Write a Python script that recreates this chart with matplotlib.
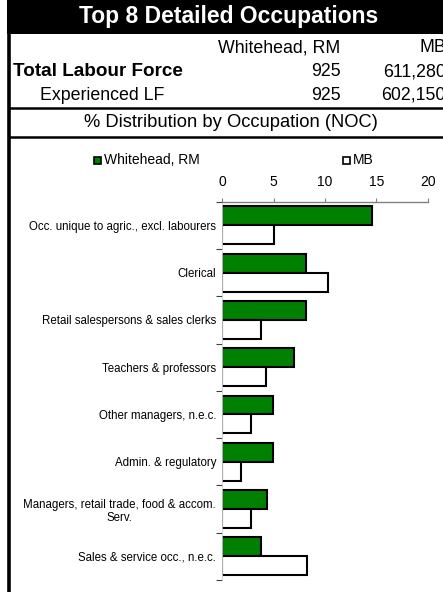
import matplotlib
matplotlib.use("Agg")
import matplotlib.pyplot as plt
from matplotlib.patches import Rectangle
from matplotlib.lines import Line2D

plt.rcParams['font.family'] = ['Liberation Sans', 'DejaVu Sans']

categories = [
    "Occ. unique to agric., excl. labourers",
    "Clerical",
    "Retail salespersons & sales clerks",
    "Teachers & professors",
    "Other managers, n.e.c.",
    "Admin. & regulatory",
    "Managers, retail trade, food & accom.\nServ.",
    "Sales & service occ., n.e.c.",
]
whitehead = [14.6, 8.1, 8.1, 7.0, 4.9, 4.9, 4.3, 3.8]
mb = [5.0, 10.3, 3.8, 4.2, 2.8, 1.8, 2.8, 8.2]
series_names = ["Whitehead, RM", "MB"]
total_lf = ["925", "611,280"]
experienced_lf = ["925", "602,150"]
xticks = [0, 5, 10, 15, 20]

W, H = 443, 592
fig = plt.figure(figsize=(W / 100, H / 100), dpi=100)

def fx(px):
    return px / W

def fy(py):
    return 1 - py / H

# Title band
fig.patches.append(Rectangle((fx(7), fy(34)), fx(W), 34 / H, transform=fig.transFigure,
                             facecolor='black', edgecolor='none'))
fig.text(fx(229), fy(17), "Top 8 Detailed Occupations", color='white', fontsize=16.5,
         fontweight='bold', ha='center', va='center')

# Left border
fig.lines.append(Line2D([fx(9), fx(9)], [fy(34), fy(H)], transform=fig.transFigure,
                        color='black', lw=2.6))
# Horizontal separators
for yy in (108.5, 136.5):
    fig.lines.append(Line2D([fx(9), fx(W)], [fy(yy), fy(yy)], transform=fig.transFigure,
                            color='black', lw=1.8))

# Header table
fs = 12.8
fig.text(fx(340), fy(48), series_names[0], fontsize=fs, ha='right', va='center')
fig.text(fx(446), fy(48), series_names[1], fontsize=fs, ha='right', va='center')
fig.text(fx(13), fy(72), "Total Labour Force", fontsize=13.6, fontweight='bold', ha='left', va='center')
fig.text(fx(341), fy(72), total_lf[0], fontsize=fs, ha='right', va='center')
fig.text(fx(446), fy(72), total_lf[1], fontsize=fs, ha='right', va='center')
fig.text(fx(40), fy(95), "Experienced LF", fontsize=fs, ha='left', va='center')
fig.text(fx(341), fy(95), experienced_lf[0], fontsize=fs, ha='right', va='center')
fig.text(fx(446), fy(95), experienced_lf[1], fontsize=fs, ha='right', va='center')
fig.text(fx(231), fy(122.5), "% Distribution by Occupation (NOC)", fontsize=13.2, ha='center', va='center')

# Chart axes
ax_left, ax_right, ax_top, ax_bottom = 222.5, 427.7, 201.7, 580
ax = fig.add_axes([fx(ax_left), fy(ax_bottom), (ax_right - ax_left) / W, (ax_bottom - ax_top) / H])

n = len(categories)
pos = list(range(n))
h = 0.4
ax.barh([p - h / 2 for p in pos], whitehead, height=h, color='#008000', edgecolor='black',
        linewidth=1.5, label=series_names[0])
ax.barh([p + h / 2 for p in pos], mb, height=h, color='white', edgecolor='black',
        linewidth=1.5, label=series_names[1])

ax.set_xlim(0, 20)
ax.set_ylim(n - 0.5, -0.5)
ax.xaxis.tick_top()
ax.set_xticks(xticks)
ax.set_xticklabels([str(t) for t in xticks], fontsize=10)
ax.tick_params(axis='x', direction='out', length=3, width=0.8, color='#808080', pad=6)

ax.set_yticks(pos)
ax.set_yticklabels(categories, fontsize=8.3)
ax.set_yticks([p - 0.5 for p in range(n + 1)], minor=True)
ax.tick_params(axis='y', which='major', length=0, pad=4.5)
ax.tick_params(axis='y', which='minor', direction='out', length=4, width=0.8, color='#404040')
for lab in ax.get_yticklabels():
    lab.set_multialignment('center')

for s in ('right', 'bottom'):
    ax.spines[s].set_visible(False)
ax.spines['top'].set_color('#808080')
ax.spines['top'].set_linewidth(1.0)
ax.spines['left'].set_color('#d0d0d0')
ax.spines['left'].set_linewidth(0.6)
ax.set_facecolor('none')

# Legend (manual placement)
fig.patches.append(Rectangle((fx(94), fy(164)), 7 / W, 7 / H, transform=fig.transFigure,
                             facecolor='#008000', edgecolor='black', lw=1.2))
fig.text(fx(104), fy(160.5), series_names[0], fontsize=10, ha='left', va='center')
fig.patches.append(Rectangle((fx(343), fy(164)), 7 / W, 7 / H, transform=fig.transFigure,
                             facecolor='white', edgecolor='black', lw=1.2))
fig.text(fx(352.5), fy(160.5), series_names[1], fontsize=10, ha='left', va='center')

fig.savefig("out.png", dpi=100)
